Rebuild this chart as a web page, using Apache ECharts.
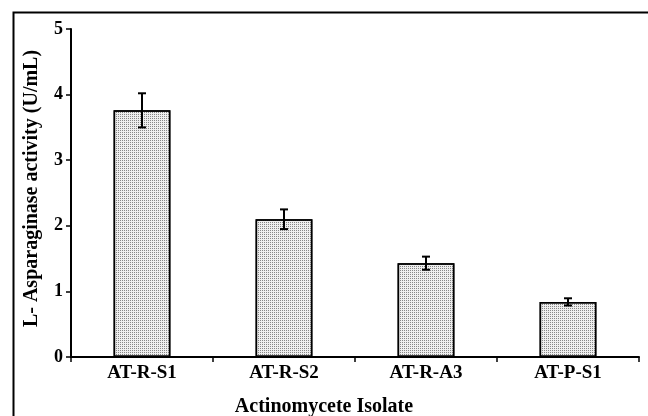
<!DOCTYPE html>
<html><head><meta charset="utf-8">
<script src="https://cdn.jsdelivr.net/npm/echarts@6/dist/echarts.min.js"></script>
<style>html,body{margin:0;padding:0;background:#fff}#c{width:648px;height:416px}</style>
</head><body><div id="c"></div>
<script>
var categories = ['AT-R-S1', 'AT-R-S2', 'AT-R-A3', 'AT-P-S1'];
var activity = [3.76, 2.10, 1.43, 0.84];
var errors = [0.26, 0.15, 0.10, 0.055];
var yTicks = [0, 1, 2, 3, 4, 5];

var chart = echarts.init(document.getElementById('c'), null, {renderer: 'canvas'});
var font = '"Liberation Serif", "Times New Roman", serif';
var errData = categories.map(function (c, i) { return [i, activity[i] - errors[i], activity[i] + errors[i]]; });

chart.setOption({
  animation: false,
  backgroundColor: '#fff',
  graphic: [{
    type: 'rect', left: 11, top: 10, shape: {x: 0, y: 0, width: 700, height: 500},
    style: {fill: 'none', stroke: '#000', lineWidth: 2}, silent: true, z: -1
  }],
  grid: {left: 71, right: 9, top: 29, bottom: 59, containLabel: false, outerBoundsMode: 'none'},
  xAxis: {
    type: 'category', data: categories,
    name: 'Actinomycete Isolate', nameLocation: 'middle', nameGap: 40,
    nameTextStyle: {fontFamily: font, fontWeight: 'bold', fontSize: 20, color: '#000', padding: [0, 62, 0, 0]},
    axisLine: {lineStyle: {color: '#000', width: 2}},
    axisTick: {show: true, length: 5, lineStyle: {color: '#000', width: 1.5}},
    axisLabel: {fontFamily: font, fontWeight: 'bold', fontSize: 19, color: '#000', margin: 7}
  },
  yAxis: {
    type: 'value', min: 0, max: 5, interval: 1,
    name: 'L- Asparaginase activity (U/mL)', nameLocation: 'middle', nameGap: 29,
    nameTextStyle: {fontFamily: font, fontWeight: 'bold', fontSize: 20, color: '#000', padding: [0, 0, 0, 9]},
    axisLine: {show: true, lineStyle: {color: '#000', width: 2}},
    axisTick: {show: true, length: 5, lineStyle: {color: '#000', width: 1.5}},
    axisLabel: {fontFamily: font, fontWeight: 'bold', fontSize: 18, color: '#000', margin: 8,
      formatter: function (v) { return yTicks.indexOf(v) >= 0 ? String(v) : ''; }},
    splitLine: {show: false}
  },
  series: [{
    type: 'bar', data: activity, barWidth: '40%',
    itemStyle: {
      color: '#eeeeee', borderColor: '#000', borderWidth: 1.5,
      decal: {symbol: 'rect', symbolSize: 1, dashArrayX: [1, 1], dashArrayY: [1, 1], color: 'rgba(90,90,90,0.7)', rotation: 0}
    }
  }, {
    type: 'custom', data: errData, z: 10,
    renderItem: function (params, api) {
      var x = api.value(0);
      var lo = api.coord([x, api.value(1)]);
      var hi = api.coord([x, api.value(2)]);
      var hw = 4;
      var st = {stroke: '#000', lineWidth: 2};
      return {type: 'group', children: [
        {type: 'line', shape: {x1: lo[0], y1: lo[1], x2: hi[0], y2: hi[1]}, style: st},
        {type: 'line', shape: {x1: lo[0] - hw, y1: lo[1], x2: lo[0] + hw, y2: lo[1]}, style: st},
        {type: 'line', shape: {x1: hi[0] - hw, y1: hi[1], x2: hi[0] + hw, y2: hi[1]}, style: st}
      ]};
    }
  }]
});
</script></body></html>
